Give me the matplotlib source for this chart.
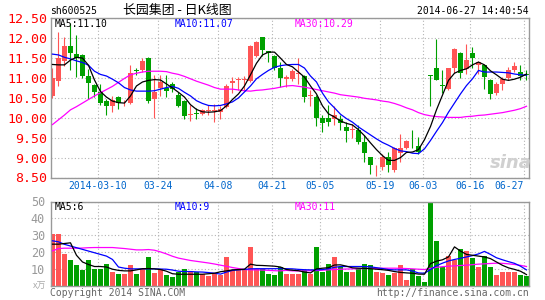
import matplotlib
matplotlib.use('Agg')
import matplotlib.pyplot as plt
import numpy as np
from matplotlib.transforms import blended_transform_factory

# Data ================================================================================================
opens = [10.55, 10.92, 11.42, 11.80, 11.61, 11.57, 11.04, 10.82, 10.65, 10.41,
         10.30, 10.52, 10.36, 10.37, 11.20, 11.19, 11.50, 10.48, 10.75, 10.75,
         10.86, 10.57, 10.41, 10.07, 10.11, 10.10, 10.17, 10.18, 10.15, 10.27,
         10.88, 10.94, 10.96, 10.92, 11.55, 12.03, 11.68, 11.55, 11.25, 10.98,
         10.98, 11.10, 11.04, 10.56, 10.52, 10.00, 10.00, 9.98, 9.96, 9.77,
         9.70, 9.69, 9.39, 9.02, 8.78, 8.77, 9.02, 8.70, 9.12, 9.24,
         9.40, 9.29, 10.06, 11.07, 11.25, 10.81, 10.72, 11.25, 11.63, 11.22,
         11.64, 11.33, 11.32, 10.94, 10.62, 10.86, 11.00, 11.21, 11.15, 11.09]
highs = [11.25, 12.15, 12.02, 12.37, 12.07, 11.60, 11.23, 10.86, 10.86, 10.48,
         10.56, 10.56, 10.45, 11.33, 11.25, 11.50, 11.53, 11.07, 11.08, 11.07,
         10.90, 10.65, 10.44, 10.31, 10.25, 10.21, 10.31, 10.35, 10.30, 10.86,
         11.02, 11.02, 11.04, 11.84, 11.92, 12.03, 11.69, 11.57, 11.40, 11.07,
         11.22, 11.50, 11.07, 10.69, 10.57, 10.06, 10.31, 10.30, 10.06, 9.90,
         9.85, 9.81, 9.56, 9.02, 8.82, 9.10, 9.14, 9.27, 9.60, 9.43,
         9.69, 9.52, 10.06, 11.07, 11.97, 11.19, 11.25, 11.75, 11.65, 11.86,
         11.78, 11.42, 11.33, 10.98, 10.90, 11.03, 11.28, 11.40, 11.32, 11.19]
lows = [10.50, 10.80, 11.30, 11.20, 11.03, 11.00, 10.48, 10.52, 10.31, 10.06,
        10.15, 10.23, 10.30, 10.35, 11.08, 11.15, 10.36, 10.00, 10.56, 10.52,
        10.65, 10.27, 9.98, 9.91, 9.98, 10.08, 10.08, 9.90, 9.98, 10.25,
        10.63, 10.69, 10.67, 10.90, 11.53, 11.55, 11.40, 11.19, 10.77, 10.78,
        10.92, 10.86, 10.40, 10.30, 9.80, 9.64, 9.80, 9.81, 9.69, 9.38,
        9.48, 9.35, 8.89, 8.60, 8.54, 8.68, 8.64, 8.64, 8.90, 9.22,
        9.24, 9.10, 10.06, 10.30, 10.94, 10.63, 10.69, 11.13, 11.00, 11.11,
        11.24, 11.11, 10.72, 10.48, 10.58, 10.69, 10.94, 11.15, 10.94, 10.94]
closes = [11.00, 11.50, 11.80, 11.63, 11.49, 11.05, 10.87, 10.65, 10.37, 10.30,
          10.45, 10.36, 10.38, 11.13, 11.18, 11.42, 10.41, 10.65, 10.90, 10.68,
          10.72, 10.30, 10.04, 10.10, 10.09, 10.19, 10.19, 10.20, 10.22, 10.79,
          10.92, 10.98, 10.98, 11.80, 11.90, 11.70, 11.63, 11.25, 11.00, 11.03,
          11.17, 11.12, 10.52, 10.58, 10.00, 9.87, 9.90, 10.08, 9.87, 9.67,
          9.72, 9.39, 9.12, 8.81, 8.80, 9.02, 8.81, 9.23, 9.24, 9.41,
          9.38, 9.14, 10.06, 11.04, 10.94, 10.80, 11.25, 11.74, 11.13, 11.44,
          11.50, 11.40, 11.03, 10.61, 10.86, 10.98, 11.19, 11.29, 11.05, 11.07]

ma5 = [11.34, 11.33, 11.33, 11.45, 11.52, 11.50, 11.32, 10.95, 10.66, 10.52,
       10.42, 10.38, 10.37, 10.55, 10.80, 10.90, 10.94, 10.96, 10.95, 10.85,
       10.75, 10.64, 10.52, 10.33, 10.21, 10.15, 10.14, 10.15, 10.18, 10.30,
       10.46, 10.60, 10.80, 11.08, 11.37, 11.58, 11.65, 11.65, 11.50, 11.34,
       11.28, 11.15, 11.02, 10.80, 10.60, 10.30, 10.10, 10.02, 9.92, 9.86,
       9.82, 9.70, 9.55, 9.37, 9.20, 9.05, 8.93, 8.93, 9.00, 9.13,
       9.14, 9.20, 9.45, 9.78, 10.20, 10.57, 10.94, 11.12, 11.19, 11.23,
       11.33, 11.40, 11.33, 11.18, 11.08, 10.97, 10.94, 10.97, 11.02, 11.10]
ma10 = [11.60, 11.58, 11.52, 11.48, 11.43, 11.39, 11.32, 11.17, 11.09, 11.05,
        10.97, 10.88, 10.76, 10.70, 10.67, 10.67, 10.67, 10.68, 10.72, 10.76,
        10.79, 10.74, 10.64, 10.55, 10.43, 10.36, 10.31, 10.30, 10.31, 10.35,
        10.40, 10.50, 10.65, 10.80, 10.98, 11.09, 11.19, 11.27, 11.31, 11.33,
        11.34, 11.34, 11.25, 11.05, 10.90, 10.62, 10.40, 10.25, 10.09, 9.98,
        9.89, 9.77, 9.67, 9.57, 9.47, 9.38, 9.31, 9.23, 9.17, 9.15,
        9.11, 9.10, 9.22, 9.43, 9.66, 9.88, 10.14, 10.37, 10.60, 10.81,
        10.98, 11.19, 11.15, 11.15, 11.15, 11.14, 11.13, 11.10, 11.08, 11.07]
ma30 = [9.83, 9.95, 10.07, 10.20, 10.28, 10.37, 10.46, 10.55, 10.63, 10.71,
        10.79, 10.89, 10.99, 11.08, 11.12, 11.15, 11.17, 11.17, 11.17, 11.16,
        11.12, 11.09, 11.04, 10.98, 10.92, 10.87, 10.82, 10.76, 10.72, 10.72,
        10.72, 10.70, 10.68, 10.67, 10.69, 10.70, 10.72, 10.74, 10.77, 10.80,
        10.81, 10.79, 10.77, 10.74, 10.71, 10.68, 10.65, 10.62, 10.58, 10.56,
        10.54, 10.52, 10.49, 10.47, 10.45, 10.42, 10.40, 10.36, 10.31, 10.25,
        10.20, 10.13, 10.08, 10.05, 10.03, 10.02, 10.01, 10.01, 10.01, 10.03,
        10.04, 10.06, 10.07, 10.09, 10.11, 10.13, 10.16, 10.19, 10.23, 10.29]

volume = [30.4, 30.4, 18.6, 15.0, 12.0, 9.0, 15.0, 10.0, 10.0, 12.7,
          8.0, 6.7, 6.7, 12.0, 6.7, 9.7, 16.9, 7.3, 10.0, 6.5,
          5.0, 8.0, 9.7, 8.0, 8.0, 6.7, 5.5, 7.0, 6.5, 16.9,
          9.0, 9.0, 9.0, 23.0, 10.0, 10.0, 7.0, 6.0, 11.0, 7.0,
          6.7, 6.7, 9.0, 6.7, 22.8, 8.0, 12.7, 16.9, 11.0, 8.0,
          8.0, 10.3, 12.7, 12.0, 8.0, 7.3, 6.2, 7.3, 12.0, 3.2,
          9.7, 5.6, 2.0, 49.0, 26.4, 11.0, 17.5, 15.0, 21.6, 20.4,
          16.3, 11.0, 17.5, 11.0, 6.2, 8.0, 8.0, 8.0, 6.2, 5.6]
vma5 = [24.6, 24.6, 25.0, 25.4, 18.0, 14.0, 12.5, 11.3, 11.3, 11.0,
        9.7, 9.0, 8.7, 8.7, 9.3, 10.0, 10.1, 9.9, 9.5, 8.5,
        7.0, 6.7, 6.7, 6.7, 6.7, 6.7, 7.0, 7.3, 8.2, 8.7,
        9.3, 9.5, 9.7, 12.7, 12.0, 11.9, 11.7, 11.5, 11.0, 9.5,
        9.1, 8.8, 8.0, 7.5, 9.9, 10.3, 10.6, 12.2, 12.3, 11.5,
        10.5, 10.3, 10.2, 10.0, 9.7, 9.4, 9.0, 8.3, 7.8, 7.5,
        7.3, 6.8, 6.7, 13.0, 14.5, 15.3, 17.0, 23.0, 20.5, 18.5,
        18.0, 17.5, 17.0, 16.0, 14.0, 12.0, 10.5, 9.6, 8.5, 6.5]
vma10 = [26.6, 26.0, 24.5, 23.5, 22.5, 21.5, 20.5, 19.5, 18.5, 17.5,
         15.5, 11.0, 10.3, 9.9, 9.9, 9.9, 9.9, 9.9, 9.8, 9.7,
         9.2, 8.5, 8.3, 8.3, 8.1, 8.0, 7.7, 7.3, 6.8, 8.0,
         9.0, 9.3, 9.6, 9.9, 10.0, 10.0, 10.0, 10.0, 10.0, 10.0,
         9.9, 9.6, 9.4, 9.3, 9.3, 9.5, 10.0, 10.8, 11.3, 11.3,
         11.3, 11.3, 11.3, 11.1, 10.6, 10.1, 9.5, 9.3, 9.3, 9.3,
         8.6, 7.5, 7.3, 9.5, 11.8, 13.3, 14.6, 15.5, 16.2, 17.0,
         17.8, 18.8, 20.3, 18.5, 16.5, 15.3, 14.2, 13.2, 11.5, 9.3]
vma30 = [20.6, 22.0, 22.2, 22.2, 22.2, 22.3, 22.5, 22.6, 22.6, 22.6,
         22.6, 22.3, 22.0, 21.6, 21.2, 21.2, 21.4, 21.0, 20.0, 18.8,
         17.4, 16.3, 15.6, 14.9, 14.4, 13.9, 13.4, 12.8, 12.1, 11.4,
         10.7, 10.1, 9.5, 9.3, 9.3, 9.2, 9.0, 8.8, 8.7, 9.0,
         8.7, 8.7, 8.7, 8.8, 8.9, 9.1, 9.3, 9.5, 9.7, 9.8,
         9.9, 10.0, 10.1, 10.2, 10.2, 10.3, 10.3, 10.3, 10.2, 10.1,
         9.9, 9.7, 9.5, 10.2, 10.8, 11.2, 11.5, 11.7, 11.9, 12.1,
         12.4, 12.7, 12.9, 13.1, 13.3, 13.2, 12.9, 12.5, 12.0, 11.3]

date_labels = ['2014-03-10', '03-24', '04-08', '04-21', '05-05', '05-19', '06-03', '06-16', '06-27']
date_pos = [7.6, 17.6, 27.6, 36.6, 44.6, 54.6, 61.7, 69.6, 78.6]
price_ticks = [8.5, 9.0, 9.5, 10.0, 10.5, 11.0, 11.5, 12.0, 12.5]
vol_ticks = [10, 20, 30, 40, 50]
#======================================================================================================

RED = '#ff5555'
GREEN = '#00a000'
GRID = '#b4b4b4'
BORDER = '#999999'
MONO = 'DejaVu Sans Mono'
CJK = ['Noto Sans CJK SC', 'DejaVu Sans']

W, H = 545, 300
fig = plt.figure(figsize=(W / 100, H / 100), dpi=100)
fig.patch.set_facecolor('white')

def fx(p):
    return p / W

def fy(p):
    return 1 - p / H

ax = fig.add_axes([fx(50.5), fy(177.5), (529.3 - 50.5) / W, (177.5 - 18.3) / H])
axv = fig.add_axes([fx(50.5), fy(285.5), (529.3 - 50.5) / W, (285.5 - 201.5) / H])

x = np.arange(len(closes))
o = np.array(opens)
c = np.array(closes)
colors = np.where(c > o, RED, GREEN)

# Candles
ax.vlines(x, lows, highs, colors=colors, lw=0.8, zorder=2)
body = np.maximum(np.abs(c - o), 0.015)
ax.bar(x, body, bottom=np.minimum(o, c), width=0.75, color=colors, lw=0, zorder=2)
ax.plot(x, ma30, color='#ff00ff', lw=0.9, zorder=3)
ax.plot(x, ma10, color='#0000ff', lw=0.9, zorder=3)
ax.plot(x, ma5, color='black', lw=0.9, zorder=3)

# Volume
axv.bar(x, volume, width=0.82, color=colors, lw=0, zorder=2)
axv.plot(x, vma30, color='#ff00ff', lw=0.9, zorder=3)
axv.plot(x, vma10, color='#0000ff', lw=0.9, zorder=3)
axv.plot(x, vma5, color='black', lw=0.9, zorder=3)

for a in (ax, axv):
    a.set_xlim(-0.33, 79.47)
    a.set_xticks(date_pos)
    a.grid(True, color=GRID, ls=(0, (1, 2)), lw=0.8)
    a.set_axisbelow(True)
    a.tick_params(length=0, labelbottom=False)
    for s in a.spines.values():
        s.set_color(BORDER)
        s.set_linewidth(1.0)

ax.set_ylim(8.5, 12.5)
ax.set_yticks(price_ticks)
ax.set_yticklabels(['%.2f' % v for v in price_ticks], family=MONO, fontsize=9.5, color='#ff0000')
ax.tick_params(axis='y', pad=2.5)

axv.set_ylim(0, 50)
axv.set_yticks(vol_ticks)
axv.set_yticklabels([str(v) for v in vol_ticks], family=MONO, fontsize=8.5, color=BORDER)
axv.tick_params(axis='y', pad=4)

# Date labels under the price panel
trans = blended_transform_factory(ax.transData, fig.transFigure)
for i, (lab, pos) in enumerate(zip(date_labels, date_pos)):
    ha = 'right' if i == len(date_labels) - 1 else 'center'
    ax.text(pos, fy(186), lab, transform=trans, ha=ha, va='center',
            family=MONO, fontsize=7, color='#0066cc')

# Header
fig.text(fx(50), fy(11.5), 'sh600525', family=MONO, fontsize=7, va='center', ha='left')
fig.text(fx(177), fy(10.5), '长园集团 - 日K线图', family=CJK, fontsize=9.3, va='center', ha='center')
fig.text(fx(529), fy(11.5), '2014-06-27 14:40:54', family=MONO, fontsize=7, va='center', ha='right')

# MA legends
fig.text(fx(54.5), fy(23.7), 'MA5:%.2f' % ma5[-1], family=MONO, fontsize=7, va='center')
fig.text(fx(175), fy(23.7), 'MA10:%.2f' % ma10[-1], family=MONO, fontsize=7, va='center', color='#0000ff')
fig.text(fx(295), fy(23.7), 'MA30:%.2f' % ma30[-1], family=MONO, fontsize=7, va='center', color='#ff00ff')
fig.text(fx(54.5), fy(206.5), 'MA5:6', family=MONO, fontsize=7, va='center')
fig.text(fx(175), fy(206.5), 'MA10:9', family=MONO, fontsize=7, va='center', color='#0000ff')
fig.text(fx(295), fy(206.5), 'MA30:11', family=MONO, fontsize=7, va='center', color='#ff00ff')

# Footer
fig.text(fx(46), fy(286), 'x万', family=CJK, fontsize=6.5, va='center', ha='right', color='#aaaaaa')
fig.text(fx(50), fy(292.5), 'Copyright 2014 SINA.COM', family=MONO, fontsize=7, va='center', color='#666666')
fig.text(fx(529), fy(292.5), 'http://finance.sina.com.cn', family=MONO, fontsize=7, va='center', ha='right', color='#666666')

# sina watermark
fig.text(fx(511), fy(163), 'sina', fontsize=13, fontweight='bold', style='italic',
         color='#d0d0d0', ha='center', va='center')

fig.savefig('out.png', dpi=100)
